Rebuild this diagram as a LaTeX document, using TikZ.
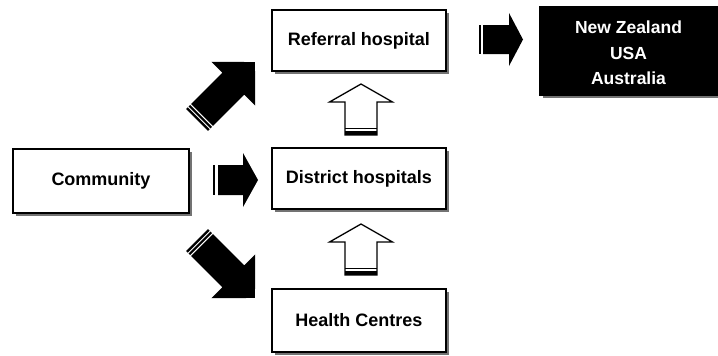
\documentclass[tikz,border=0pt]{standalone}
\usepackage{fontspec}
\setmainfont{Liberation Sans}
\usetikzlibrary{shadows}
\begin{document}
\begin{tikzpicture}[x=1pt,y=-1pt,
  box/.style={draw=black, line width=1.3pt, fill=white, minimum width=174pt,
    minimum height=61pt, inner sep=0pt,
    drop shadow={shadow xshift=3pt, shadow yshift=-3pt, fill=black!55, opacity=1},
    font=\fontsize{18}{21}\selectfont\bfseries},
  darkbox/.style={box, fill=black},
  darktext/.style={text=white, align=center, inner sep=0pt,
    font=\fontsize{17.5}{25.5}\selectfont\bfseries},
  diagarrow/.pic={
    \fill (0,-15.5) -- (51.3,-15.5) -- (51.3,-30.8) -- (82,0) -- (51.3,30.8)
      -- (51.3,15.5) -- (0,15.5) -- cycle;
    \draw[white, line width=1pt] (3,-16.5) -- (3,16.5);
    \draw[white, line width=1pt] (6.5,-16.5) -- (6.5,16.5);
  },
  uparrow/.pic={
    \draw[line width=1.3pt, fill=white, line join=miter]
      (0,0) -- (31.5,18) -- (16,18) -- (16,51) -- (-16,51) -- (-16,18)
      -- (-31.5,18) -- cycle;
    \fill (-16,47) rectangle (16,51);
    \fill (-16,43.5) rectangle (16,45.3);
  }
]
\useasboundingbox (0,0) rectangle (718,356);

% boxes
\node[box] (ref) at (359,40.5) {Referral hospital};
\node[box] (dist) at (359,178.5) {District hospitals};
\node[box, minimum height=63pt] (hc) at (359,320.5) {Health Centres};
\node[box, minimum width=176pt, minimum height=64pt] (comm) at (101,181) {Community};
\node[darkbox, minimum width=177pt, minimum height=88pt] (nz) at (628.5,51) {};
\node[darktext] (nztext) at (628.5,53) {New Zealand\\USA\\Australia};

% Community -> District hospitals
\fill (213,165) rectangle (215,195);
\fill (218,165) -- (243,165) -- (243,153) -- (258,180) -- (243,207)
  -- (243,195) -- (218,195) -- cycle;

% Referral -> abroad
\fill (479,25) rectangle (481,54);
\fill (483,25) -- (509,25) -- (509,13) -- (523,39.5) -- (509,66)
  -- (509,54) -- (483,54) -- cycle;

% Community -> Referral / Health Centres
\pic[rotate=45] at (197,120) {diagarrow};
\pic[rotate=-45] at (197,240) {diagarrow};

% upward referrals
\pic at (361,84) {uparrow};
\pic at (361,224) {uparrow};
\end{tikzpicture}
\end{document}
